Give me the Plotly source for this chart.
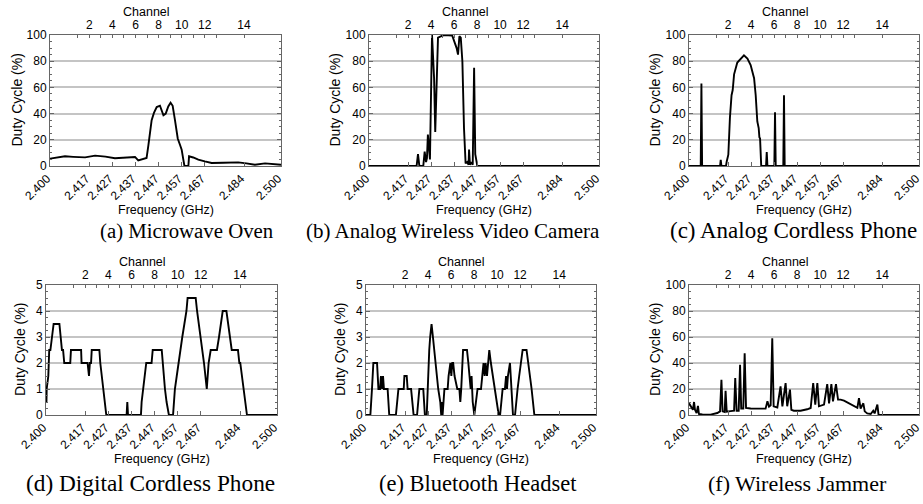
import plotly.graph_objects as go

# ---------------- data ----------------
channels = list(range(1, 15))
channel_freq = [2.412, 2.417, 2.422, 2.427, 2.432, 2.437, 2.442,
                2.447, 2.452, 2.457, 2.462, 2.467, 2.472, 2.484]
channel_text = [str(c) if c % 2 == 0 else "" for c in channels]

freq_ticks = [2.400, 2.417, 2.427, 2.437, 2.447, 2.457, 2.467, 2.484, 2.500]
freq_tick_text = ["2.400", "2.417", "2.427", "2.437", "2.447", "2.457", "2.467", "2.484", "2.500"]

captions = ["(a) Microwave Oven", "(b) Analog Wireless Video Camera", "(c) Analog Cordless Phone",
            "(d) Digital Cordless Phone", "(e) Bluetooth Headset", "(f) Wireless Jammer"]

# (a) Microwave oven: frequency in MHz, duty cycle in %
a_mhz = [2400.0, 2403.0, 2406.5, 2410.0, 2415.2, 2419.5, 2424.0, 2428.1, 2432.0, 2436.8,
         2438.2, 2440.0, 2441.8, 2442.6, 2443.3, 2444.0, 2445.0, 2446.2, 2447.6, 2448.3,
         2449.1, 2450.1, 2451.2, 2452.2, 2453.1, 2454.1, 2455.3, 2456.3, 2457.0, 2457.7,
         2458.2, 2459.9, 2460.2, 2462.0, 2464.2, 2467.0, 2470.0, 2475.0, 2481.5, 2485.0,
         2488.7, 2493.1, 2496.0, 2500.0]
a_duty = [5.6, 6.5, 7.4, 7.0, 6.6, 7.9, 7.2, 5.9, 6.4, 6.9,
          4.3, 5.0, 6.1, 16.0, 28.0, 35.0, 40.5, 45.0, 46.0, 43.0,
          38.7, 40.0, 45.5, 48.3, 46.0, 35.0, 21.0, 16.0, 12.5, 5.0,
          0.0, 0.0, 7.4, 6.5, 4.8, 3.5, 2.3, 2.5, 2.8, 2.0,
          1.0, 2.0, 1.5, 1.0]

# (b) Analog wireless video camera
b_mhz = [2400.0, 2420.7, 2421.3, 2421.9, 2423.6, 2424.2, 2424.8, 2425.2, 2425.6, 2426.5,
         2427.4, 2428.3, 2428.8, 2429.4, 2430.0, 2431.2, 2432.6, 2436.2, 2437.2, 2438.1,
         2438.7, 2439.3, 2439.9, 2440.6, 2441.3, 2442.0, 2442.7, 2443.3, 2443.5, 2443.9,
         2444.5, 2445.1, 2445.7, 2446.2, 2447.1, 2500.0]
b_duty = [0, 0, 9, 0, 0, 11, 3, 6, 24, 5,
          100, 67, 26, 75, 98, 99, 100, 99.5, 95, 90,
          85, 99, 98, 80, 29, 2, 3, 1, 12.5, 1,
          3, 1, 75, 9, 0, 0]

# (c) Analog cordless phone
c_mhz = [2400.0, 2405.1, 2405.4, 2405.7, 2413.5, 2413.8, 2414.1, 2416.1, 2416.4, 2417.1,
         2417.8, 2418.5, 2419.0, 2419.6, 2421.0, 2422.5, 2423.9, 2425.4, 2426.8, 2428.3,
         2429.0, 2429.7, 2430.3, 2430.6, 2430.9, 2431.4, 2433.5, 2433.8, 2434.1, 2437.1,
         2437.4, 2437.7, 2441.0, 2441.3, 2441.6, 2500.0]
c_duty = [0, 0, 63, 0, 0, 4.6, 0, 0, 3.5, 8.6,
          37, 54, 58, 70, 79, 82, 84.5, 82, 77, 67,
          54, 34, 29, 22, 21, 0, 0, 10.7, 0, 0,
          41, 0, 0, 54, 0, 0]

# (d) Digital cordless phone
d_mhz = [2400.0, 2400.2, 2400.3, 2400.7, 2401.0, 2401.4, 2401.9, 2402.6, 2403.3, 2405.8,
         2406.2, 2406.9, 2407.4, 2407.9, 2410.5, 2410.8, 2415.2, 2415.4, 2418.0, 2418.6,
         2419.0, 2419.5, 2419.8, 2423.1, 2423.5, 2424.1, 2424.7, 2425.4, 2426.1, 2434.9,
         2435.2, 2435.5, 2441.1, 2441.4, 2442.0, 2442.6, 2443.4, 2445.7, 2446.2, 2450.1,
         2450.5, 2451.1, 2451.5, 2452.2, 2453.2, 2455.0, 2455.3, 2455.8, 2456.6, 2457.3,
         2458.2, 2459.0, 2459.9, 2460.8, 2461.3, 2464.8, 2465.4, 2466.2, 2467.0, 2467.7,
         2468.4, 2469.0, 2469.6, 2470.0, 2470.4, 2471.3, 2474.0, 2474.9, 2475.6, 2476.5,
         2478.1, 2478.9, 2479.7, 2480.4, 2483.1, 2483.7, 2484.1, 2484.8, 2485.6, 2486.1,
         2487.0, 2500.0]
d_duty = [0.5, 0.5, 1.0, 1.5, 1.5, 2.5, 2.5, 3.0, 3.5, 3.5,
          3.0, 2.5, 2.5, 2.0, 2.0, 2.5, 2.5, 2.0, 2.0, 1.5,
          2.0, 2.0, 2.5, 2.5, 2.0, 1.5, 1.0, 0.5, 0.0, 0.0,
          0.5, 0.0, 0.0, 0.5, 1.0, 1.5, 2.0, 2.0, 2.5, 2.5,
          2.0, 1.5, 1.0, 0.5, 0.0, 0.0, 0.5, 1.0, 1.5, 2.0,
          2.5, 3.0, 3.5, 4.0, 4.5, 4.5, 4.0, 3.5, 3.0, 2.5,
          2.0, 1.5, 1.0, 1.5, 2.0, 2.5, 2.5, 3.0, 3.5, 4.0,
          4.0, 3.5, 3.0, 2.5, 2.5, 2.0, 2.0, 1.5, 1.0, 0.5,
          0.0, 0.0]

# (e) Bluetooth headset
e_mhz = [2400.0, 2401.9, 2402.6, 2403.2, 2404.8, 2405.4, 2406.1, 2406.5, 2407.0, 2407.4,
         2407.8, 2409.4, 2410.1, 2413.0, 2414.1, 2416.4, 2416.7, 2417.7, 2418.1, 2419.6,
         2420.7, 2422.2, 2422.7, 2423.2, 2424.9, 2425.6, 2426.4, 2426.9, 2427.5, 2427.9,
         2428.5, 2429.1, 2429.6, 2430.3, 2430.9, 2431.4, 2432.3, 2432.7, 2433.0, 2433.3,
         2434.1, 2435.5, 2435.9, 2436.7, 2437.1, 2437.5, 2437.9, 2438.5, 2439.7, 2440.6,
         2441.0, 2441.4, 2442.2, 2443.9, 2444.5, 2445.1, 2445.5, 2445.9, 2446.4, 2447.1,
         2447.8, 2448.5, 2450.0, 2450.7, 2451.1, 2451.6, 2452.0, 2452.6, 2453.0, 2453.6,
         2454.3, 2455.1, 2455.8, 2456.9, 2457.7, 2458.3, 2458.7, 2459.4, 2460.4, 2460.9,
         2461.3, 2461.7, 2462.6, 2463.0, 2463.5, 2463.9, 2464.8, 2465.2, 2465.9, 2466.6,
         2467.4, 2468.1, 2469.8, 2470.6, 2471.1, 2472.0, 2473.2, 2500.0]
e_duty = [0, 0, 1, 2, 2, 1, 1, 1.5, 1, 1.5,
          1, 1, 0, 0, 1, 1, 1.5, 1.5, 1, 1,
          0, 0, 0.5, 1, 1, 0, 0, 1.5, 2.5, 3,
          3.5, 3, 2.5, 2, 1.5, 1, 0.5, 0, 0.5, 0,
          1, 1, 1.5, 2, 1.5, 2, 2, 1.5, 1, 1,
          0.5, 1, 2.5, 2.5, 2, 1.5, 1, 1.5, 0.5, 0,
          0.5, 1, 1, 1.5, 2, 1.5, 2, 1.5, 2, 2.5,
          2, 1.5, 1, 0.5, 0, 0, 0.5, 1, 1, 1.5,
          1, 1.5, 2, 1.5, 0.5, 0, 0, 0.5, 1, 1.5,
          2, 2.5, 2.5, 2, 1.5, 1, 0, 0]

# (f) Wireless jammer
f_mhz = [2400.0, 2400.6, 2401.2, 2401.7, 2402.2, 2402.6, 2403.3, 2403.9, 2404.3, 2405.8,
         2409.4, 2412.3, 2413.5, 2414.1, 2414.6, 2415.5, 2415.9, 2416.4, 2418.1, 2419.6,
         2420.1, 2420.7, 2421.6, 2422.2, 2422.7, 2423.6, 2424.2, 2424.8, 2426.8, 2429.7,
         2433.3, 2434.1, 2434.8, 2435.5, 2436.2, 2436.8, 2438.4, 2439.8, 2440.6, 2442.0,
         2442.7, 2443.9, 2444.5, 2445.6, 2448.5, 2451.4, 2452.9, 2454.0, 2454.9, 2455.8,
         2456.5, 2458.7, 2460.1, 2460.9, 2461.9, 2462.6, 2463.9, 2464.8, 2465.9, 2467.4,
         2470.3, 2473.2, 2473.9, 2474.6, 2475.8, 2476.4, 2477.5, 2479.0, 2480.1, 2480.7,
         2481.9, 2482.4, 2483.3, 2500.0]
f_duty = [9, 7, 5.5, 4, 10, 4, 1.5, 7, 0.8, 0.4,
          0.3, 1.5, 2.8, 27, 2.8, 2.3, 18.7, 2.5, 3, 3.3,
          28.5, 3.3, 3.3, 38.7, 5, 5, 47.4, 5.4, 5, 4.9,
          4.9, 10.5, 6.5, 7.5, 59, 6.7, 5.8, 22, 6.7, 24.6,
          6.7, 19.5, 4, 3.3, 3.3, 4.4, 5.4, 24.6, 8, 24.6,
          6.7, 8, 23.8, 9, 23.8, 10.5, 23.8, 11.8, 11.8, 11,
          8, 5.5, 13, 5, 9, 2.8, 1.2, 0.8, 3.3, 1.2,
          8, 0.3, 0, 0]

series_mhz = [a_mhz, b_mhz, c_mhz, d_mhz, e_mhz, f_mhz]
series_duty = [a_duty, b_duty, c_duty, d_duty, e_duty, f_duty]
y_max = [100, 100, 100, 5, 5, 100]

# ---------------- layout geometry (pixels) ----------------
W, H = 923, 504
# plot area: left, right, top, bottom in px
boxes = [(50, 281, 35, 166), (369, 599, 35, 166), (689, 919, 35, 166),
         (46, 277, 285, 415), (366, 596, 285, 415), (689, 919, 285, 415)]
ytitle_x = [17, 335, 655, 20, 340, 655]
caption_pos = [(187, 231), (453, 231), (793, 231), (150, 483), (478, 483), (797, 483)]
caption_size = [20.8, 21, 23, 23.3, 22.5, 22]

FONT = "Liberation Sans, Arial, sans-serif"
SERIF = "Liberation Serif, Times New Roman, serif"
FRAME = "#666666"
GRID = "#c4c4c4"

fig = go.Figure()
layout = dict(width=W, height=H, margin=dict(l=0, r=0, t=0, b=0, autoexpand=False),
              paper_bgcolor="white", plot_bgcolor="white", showlegend=False,
              font=dict(family=FONT, size=12, color="black"))
annotations = []


def px_x(x):
    return x / W


def px_y(y):
    return 1 - y / H


for i in range(6):
    l, r, t, b = boxes[i]
    xb = 2 * i + 1
    xt = 2 * i + 2
    yi = i + 1
    xdom = [px_x(l), px_x(r)]
    ydom = [px_y(b), px_y(t)]
    ymax = y_max[i]
    xs = [m / 1000.0 for m in series_mhz[i]]

    fig.add_trace(go.Scatter(
        x=xs, y=series_duty[i],
        mode="lines", line=dict(color="black", width=1.9),
        xaxis=f"x{xb}", yaxis=f"y{yi}", hoverinfo="skip"))
    # invisible companion so the top (channel) axis is drawn
    fig.add_trace(go.Scatter(
        x=[xs[0], xs[-1]], y=[0, 0], mode="lines", line=dict(width=0),
        opacity=0, xaxis=f"x{xt}", yaxis=f"y{yi}", hoverinfo="skip"))

    layout[f"xaxis{xb}"] = dict(
        domain=xdom, anchor=f"y{yi}", range=[2.4, 2.5], side="bottom",
        tickmode="array", tickvals=freq_ticks, ticktext=freq_tick_text,
        tickangle=-45, ticks="inside", ticklen=4, tickcolor=FRAME,
        showline=True, linecolor=FRAME, linewidth=1, mirror=False,
        ticklabeloverflow="allow", ticklabelshift=-3,
        showgrid=False, zeroline=False, automargin=False, tickfont=dict(size=12))
    layout[f"xaxis{xt}"] = dict(
        domain=xdom, anchor=f"y{yi}", overlaying=f"x{xb}", range=[2.4, 2.5], side="top",
        tickmode="array", tickvals=channel_freq, ticktext=channel_text,
        ticks="inside", ticklen=3, tickcolor=FRAME,
        showline=True, linecolor=FRAME, linewidth=1, ticklabeloverflow="allow",
        showgrid=False, zeroline=False, automargin=False, tickfont=dict(size=12))
    layout[f"yaxis{yi}"] = dict(
        domain=ydom, anchor=f"x{xb}", range=[0, ymax],
        dtick=20 if ymax == 100 else 1, ticks="inside", ticklen=4, tickcolor=FRAME,
        minor=dict(dtick=5 if ymax == 100 else 0.25, ticks="inside", ticklen=2,
                   tickcolor=FRAME, showgrid=False),
        showline=True, linecolor=FRAME, linewidth=1, mirror="ticks",
        showgrid=True, gridcolor=GRID, gridwidth=1.5, zeroline=False,
        ticklabeloverflow="allow",
        automargin=False, tickfont=dict(size=12))

    cx = (l + r) / 2
    common = dict(xref="paper", yref="paper", showarrow=False,
                  xanchor="center", yanchor="middle")
    annotations.append(dict(text="Channel", x=px_x(cx - 19), y=px_y(t - 23),
                            font=dict(size=12.5, family=FONT), **common))
    annotations.append(dict(text="Frequency (GHz)", x=px_x(cx), y=px_y(b + 44),
                            font=dict(size=12.5, family=FONT), **common))
    annotations.append(dict(text="Duty Cycle (%)", x=px_x(ytitle_x[i]), y=px_y((t + b) / 2),
                            textangle=-90, font=dict(size=14, family=FONT), **common))
    cxp, cyp = caption_pos[i]
    annotations.append(dict(text=captions[i], x=px_x(cxp), y=px_y(cyp),
                            font=dict(size=caption_size[i], family=SERIF, color="black"),
                            **common))

layout["annotations"] = annotations
fig.update_layout(**layout)
fig.write_html("out.html", config={"displayModeBar": False},
               post_script="document.body.style.margin='0';document.body.style.overflow='hidden';")
